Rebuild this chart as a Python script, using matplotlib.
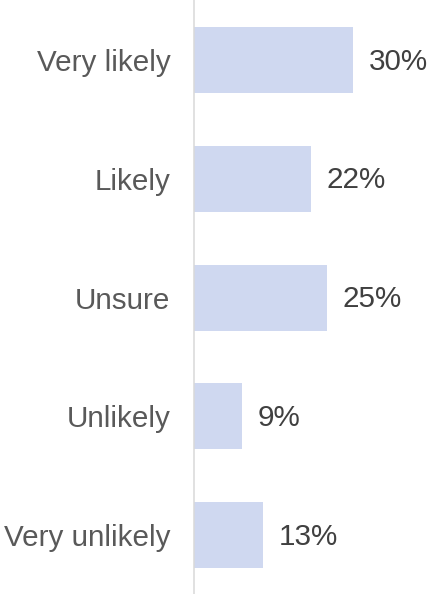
import matplotlib.pyplot as plt

# data
categorias = ['Very likely', 'Likely', 'Unsure', 'Unlikely', 'Very unlikely']
valores = [30, 22, 25, 9, 13]

plt.rcParams['font.family'] = ['Liberation Sans', 'DejaVu Sans']

fig = plt.figure(figsize=(4.31, 5.94), dpi=100)
ax = fig.add_axes([194 / 431, 0, 1 - 194 / 431, 1])

y = range(len(categorias))
barras = ax.barh(y, valores, height=0.556, color='#CFD8F0')

# etiquetas de valor
for b, v in zip(barras, valores):
    ax.annotate(f'{v}%', (b.get_width(), b.get_y() + b.get_height() / 2),
                xytext=(11.5, -1), textcoords='offset points',
                va='center', ha='left', fontsize=21.3, color='#404040')

ax.set_yticks(list(y))
ax.set_yticklabels(categorias, fontsize=21.3, color='#595959')
ax.tick_params(axis='y', length=0, pad=17)
ax.set_xticks([])
ax.set_xlim(0, 44.7)
ax.set_ylim(4.496, -0.508)

for s in ['top', 'right', 'bottom']:
    ax.spines[s].set_visible(False)
ax.spines['left'].set_color('#D9D9D9')
ax.spines['left'].set_linewidth(1.1)

plt.savefig('out.png', dpi=100)
